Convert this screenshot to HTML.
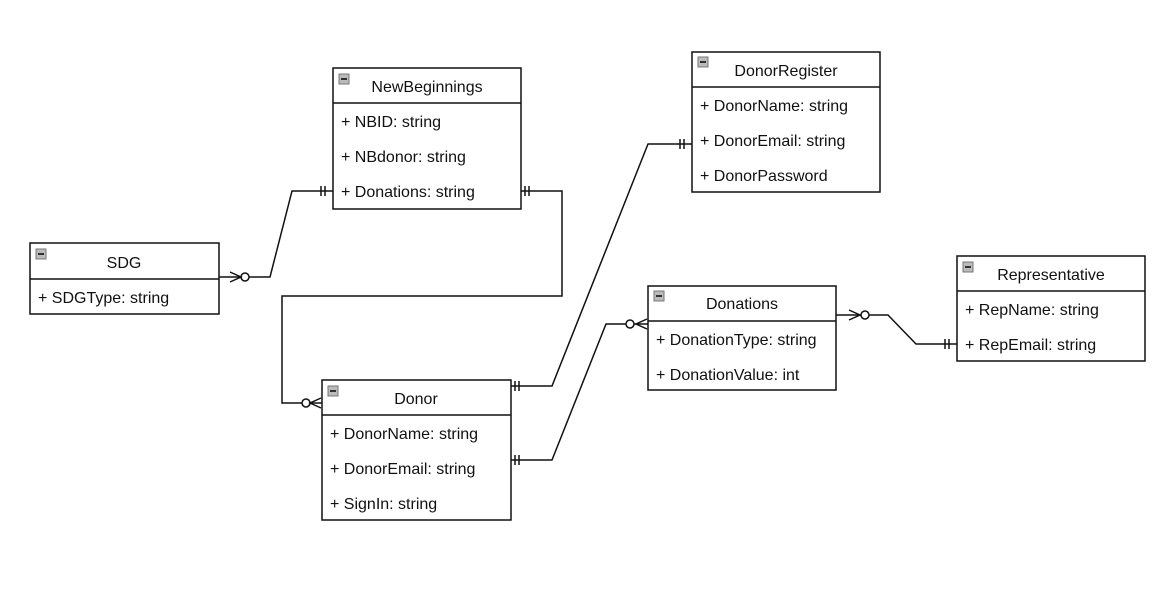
<!DOCTYPE html>
<html><head><meta charset="utf-8"><style>
html,body{margin:0;padding:0;background:#fff;width:1165px;height:601px;overflow:hidden}
svg text{font-family:"Liberation Sans",Arial,sans-serif;font-size:16px;fill:#111}
</style></head><body>
<svg width="1165" height="601" viewBox="0 0 1165 601" xmlns="http://www.w3.org/2000/svg">
<defs>
<g id="ic"><rect x="0" y="0" width="10" height="10" fill="#bbb" stroke="#777" stroke-width="1"/><line x1="2" y1="5" x2="8" y2="5" stroke="#222" stroke-width="1.8"/></g>
</defs>
<g fill="none" stroke="#111" stroke-width="1.5">
<polyline points="219,277 270,277 292,191 333,191"/>
<line x1="321" y1="186" x2="321" y2="196"/><line x1="325" y1="186" x2="325" y2="196"/>
<circle cx="245" cy="277" r="4" fill="#fff"/>
<polyline points="230,272 241,277 230,282"/>
<polyline points="521,191 562,191 562,296 282,296 282,403 322,403"/>
<line x1="525" y1="186" x2="525" y2="196"/><line x1="529" y1="186" x2="529" y2="196"/>
<circle cx="306" cy="403" r="4" fill="#fff"/>
<polyline points="321,398 310,403 321,408"/>
<polyline points="511,386 552,386 648,144 692,144"/>
<line x1="515" y1="381" x2="515" y2="391"/><line x1="519" y1="381" x2="519" y2="391"/>
<line x1="680" y1="139" x2="680" y2="149"/><line x1="684" y1="139" x2="684" y2="149"/>
<polyline points="511,460 552,460 606,324 648,324"/>
<line x1="515" y1="455" x2="515" y2="465"/><line x1="519" y1="455" x2="519" y2="465"/>
<circle cx="630" cy="324" r="4" fill="#fff"/>
<polyline points="647,319 636,324 647,329"/>
<polyline points="836,315 888,315 916,344 957,344"/>
<circle cx="865" cy="315" r="4" fill="#fff"/>
<polyline points="849,310 860,315 849,320"/>
<line x1="945" y1="339" x2="945" y2="349"/><line x1="949" y1="339" x2="949" y2="349"/>
</g>
<g fill="#fff" stroke="#111" stroke-width="1.5">
<rect x="30" y="243" width="189" height="71"/><line x1="30" y1="279" x2="219" y2="279"/>
<rect x="333" y="68" width="188" height="141"/><line x1="333" y1="103" x2="521" y2="103"/>
<rect x="692" y="52" width="188" height="140"/><line x1="692" y1="87" x2="880" y2="87"/>
<rect x="648" y="286" width="188" height="104"/><line x1="648" y1="321" x2="836" y2="321"/>
<rect x="957" y="256" width="188" height="105"/><line x1="957" y1="291" x2="1145" y2="291"/>
<rect x="322" y="380" width="189" height="140"/><line x1="322" y1="415" x2="511" y2="415"/>
</g>
<use href="#ic" x="36" y="249"/><use href="#ic" x="339" y="74"/><use href="#ic" x="698" y="57"/>
<use href="#ic" x="654" y="291"/><use href="#ic" x="963" y="262"/><use href="#ic" x="328" y="386"/>
<text x="124" y="268" text-anchor="middle">SDG</text>
<text x="38" y="303">+ SDGType: string</text>
<text x="427" y="92" text-anchor="middle">NewBeginnings</text>
<text x="341" y="127">+ NBID: string</text>
<text x="341" y="162">+ NBdonor: string</text>
<text x="341" y="197">+ Donations: string</text>
<text x="786" y="76" text-anchor="middle">DonorRegister</text>
<text x="700" y="111">+ DonorName: string</text>
<text x="700" y="146">+ DonorEmail: string</text>
<text x="700" y="181">+ DonorPassword</text>
<text x="742" y="309" text-anchor="middle">Donations</text>
<text x="656" y="345">+ DonationType: string</text>
<text x="656" y="380">+ DonationValue: int</text>
<text x="1051" y="280" text-anchor="middle">Representative</text>
<text x="965" y="315">+ RepName: string</text>
<text x="965" y="350">+ RepEmail: string</text>
<text x="416" y="404" text-anchor="middle">Donor</text>
<text x="330" y="439">+ DonorName: string</text>
<text x="330" y="474">+ DonorEmail: string</text>
<text x="330" y="509">+ SignIn: string</text>
</svg>
</body></html>
